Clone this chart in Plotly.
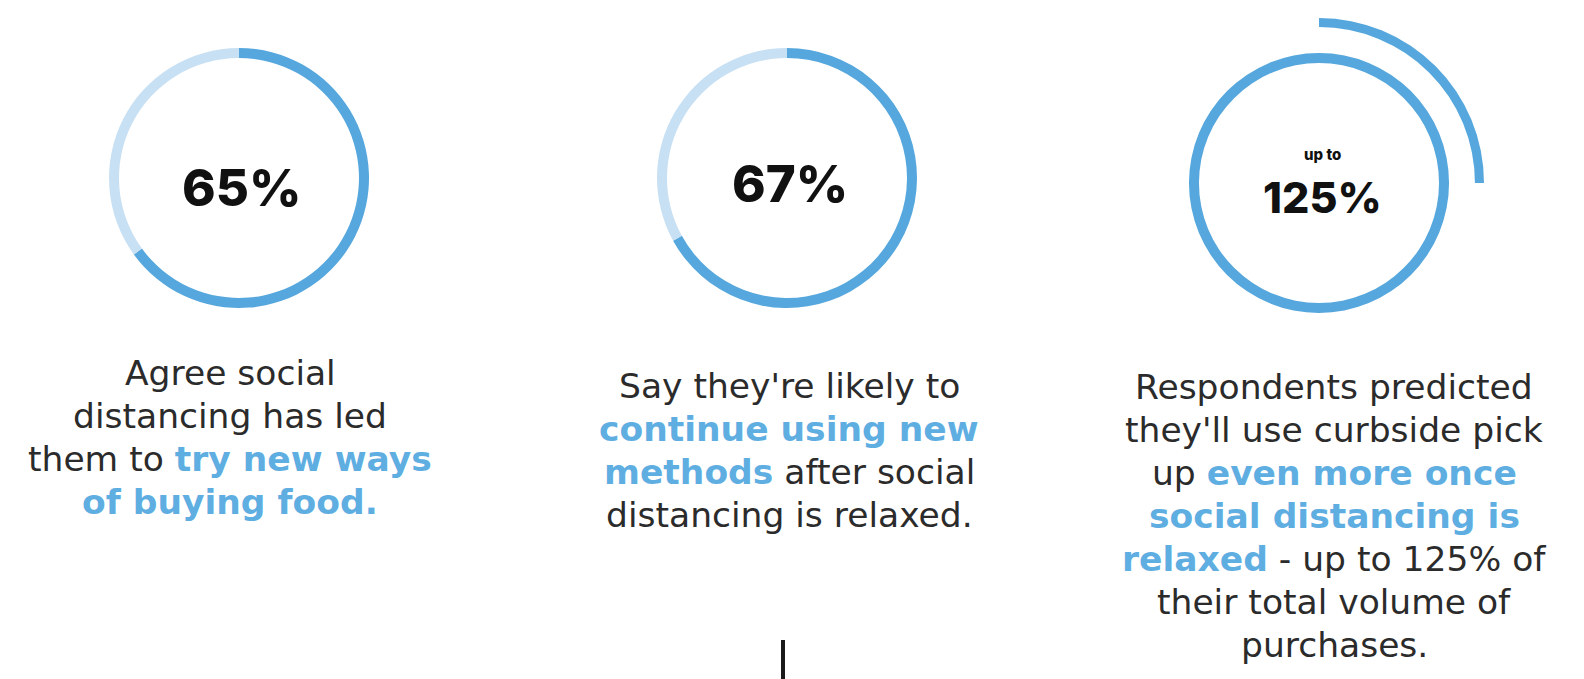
import plotly.graph_objects as go

W, H = 1584, 679

# ---- data ----
stat_values = [65, 67, 125]              # percentages shown in the rings
stat_labels = ["65%", "67%", "125%"]
stat_prefix = ["", "", "up to"]
desc_lines = [
    ["Agree social",
     "distancing has led",
     "them to <b><span style='color:#5FAEE2'>try new ways</span></b>",
     "<b><span style='color:#5FAEE2'>of buying food.</span></b>"],
    ["Say they're likely to",
     "<b><span style='color:#5FAEE2'>continue using new</span></b>",
     "<b><span style='color:#5FAEE2'>methods</span></b> after social",
     "distancing is relaxed."],
    ["Respondents predicted",
     "they'll use curbside pick",
     "up <b><span style='color:#5FAEE2'>even more once</span></b>",
     "<b><span style='color:#5FAEE2'>social distancing is</span></b>",
     "<b><span style='color:#5FAEE2'>relaxed</span></b> - up to 125% of",
     "their total volume of",
     "purchases."],
]

# ---- layout (pixels) ----
centers = [(239, 178), (787, 178), (1319, 183)]
R = 130
HOLE = 0.923
R_OUT = 165
HOLE_OUT = 0.945
DARK = "#55A7DD"
LIGHT = "#C8E0F3"
TXT = "#2B2B2B"
FONT = "DejaVu Sans"
NUMFONT = "Inter"

def dom(cx, cy, r):
    return dict(x=[(cx - r) / W, (cx + r) / W],
                y=[1 - (cy + r) / H, 1 - (cy - r) / H])

fig = go.Figure()
for i, v in enumerate(stat_values):
    cx, cy = centers[i]
    main = min(v, 100)
    vals = [main, 100 - main] if main < 100 else [100]
    cols = [DARK, LIGHT] if main < 100 else [DARK]
    fig.add_trace(go.Pie(values=vals, marker=dict(colors=cols, line=dict(width=0)),
                         hole=HOLE, sort=False, direction="clockwise", rotation=0,
                         textinfo="none", hoverinfo="skip", showlegend=False,
                         domain=dom(cx, cy, R)))
    if v > 100:
        extra = v - 100
        fig.add_trace(go.Pie(values=[extra, 100 - extra],
                             marker=dict(colors=[DARK, "rgba(0,0,0,0)"], line=dict(width=0)),
                             hole=HOLE_OUT, sort=False, direction="clockwise", rotation=0,
                             textinfo="none", hoverinfo="skip", showlegend=False,
                             domain=dom(cx, cy, R_OUT)))

annotations = []
num_pos = [(241, 187, 51), (790, 184, 51), (1322, 197, 43)]
for i, lab in enumerate(stat_labels):
    x, y, fs = num_pos[i]
    annotations.append(dict(text=lab, x=x / W, y=1 - y / H, xref="paper", yref="paper",
                            xanchor="center", yanchor="middle", showarrow=False,
                            font=dict(family=NUMFONT, size=fs, color="#111111", weight=800)))
    if stat_prefix[i]:
        annotations.append(dict(text=stat_prefix[i], x=x / W, y=1 - 155 / H,
                                xref="paper", yref="paper", xanchor="center", yanchor="middle",
                                showarrow=False, font=dict(family=NUMFONT, size=15, color="#111111", weight=800)))

desc_pos = [(230, 373), (789, 386), (1334, 387)]
LINE = 43
for i, lines in enumerate(desc_lines):
    x, y0 = desc_pos[i]
    for j, ln in enumerate(lines):
        annotations.append(dict(text=ln, x=x / W, y=1 - (y0 + j * LINE) / H,
                                xref="paper", yref="paper", xanchor="center", yanchor="middle",
                                showarrow=False, font=dict(family=FONT, size=34.5, color=TXT)))

fig.add_shape(type="line", xref="paper", yref="paper", x0=783 / W, x1=783 / W,
              y0=0, y1=1 - 640 / H, line=dict(color="#1A1A1A", width=4))

fig.update_layout(width=W, height=H, margin=dict(l=0, r=0, t=0, b=0),
                  paper_bgcolor="white", plot_bgcolor="white",
                  annotations=annotations)
fig.write_html("out.html")
